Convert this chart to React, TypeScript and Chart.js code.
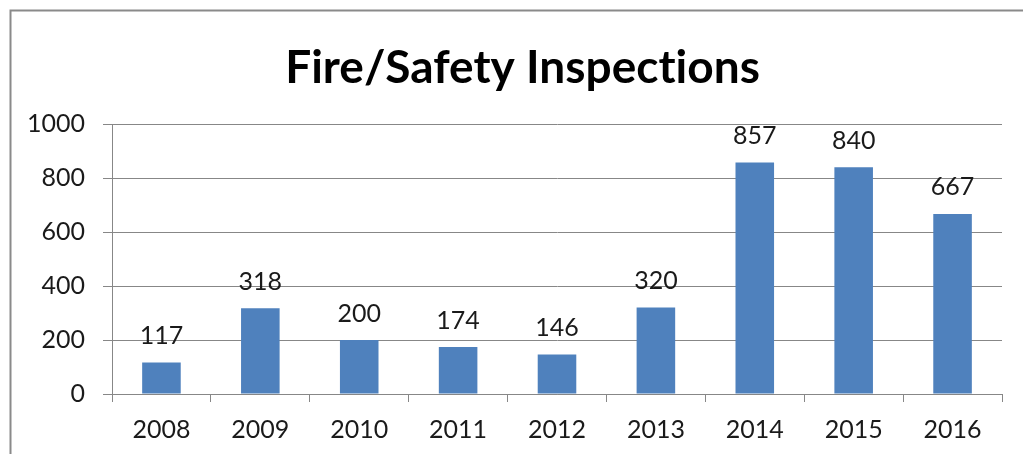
import React, { useEffect, useRef } from "react";
import { Chart, registerables } from "chart.js";

Chart.register(...registerables);

const TITLE = "Fire/Safety Inspections";
const YEARS = ["2008", "2009", "2010", "2011", "2012", "2013", "2014", "2015", "2016"];
const INSPECTIONS = [117, 318, 200, 174, 146, 320, 857, 840, 667];
const Y_MIN = 0;
const Y_MAX = 1000;
const Y_STEP = 200;

const FONT = "Lato, 'Open Sans', sans-serif";
const BAR_COLOR = "#4F81BD";
const GRID_COLOR = "#878787";
const TEXT_COLOR = "#1a1a1a";
const LABEL_SIZE = 25;

const decorPlugin = {
  id: "decor",
  beforeDraw(chart: any) {
    const ctx = chart.ctx;
    ctx.save();
    ctx.strokeStyle = "#8a8a8a";
    ctx.lineWidth = 2;
    ctx.strokeRect(10.5, 10.5, 2000, 2000);
    ctx.restore();
  },
  afterDraw(chart: any) {
    const ctx = chart.ctx;
    ctx.save();
    ctx.fillStyle = "#000";
    ctx.font = `bold 46px ${FONT}`;
    ctx.textAlign = "center";
    ctx.textBaseline = "alphabetic";
    try {
      (ctx as any).letterSpacing = "0.01px";
    } catch (e) {}
    ctx.fillText(TITLE, 522.5, 82.7);
    try {
      (ctx as any).letterSpacing = "0px";
    } catch (e) {}

    const meta = chart.getDatasetMeta(0);
    ctx.font = `${LABEL_SIZE}px ${FONT}`;
    ctx.fillStyle = TEXT_COLOR;
    meta.data.forEach((bar: any, i: number) => {
      ctx.fillText(String(INSPECTIONS[i]), bar.x, bar.y - 18.5);
    });
    ctx.restore();
  },
};

export default function App() {
  const ref = useRef<HTMLCanvasElement | null>(null);
  useEffect(() => {
    if (!ref.current) return;
    const chart = new Chart(ref.current, {
      type: "bar",
      data: {
        labels: YEARS,
        datasets: [
          {
            data: INSPECTIONS,
            backgroundColor: BAR_COLOR,
            borderWidth: 0,
            categoryPercentage: 1,
            barPercentage: 0.39,
          },
        ],
      },
      options: {
        animation: false,
        responsive: false,
        devicePixelRatio: 1,
        layout: { padding: { top: 124, right: 21, bottom: 0, left: 0 } },
        plugins: {
          legend: { display: false },
          title: { display: false },
          tooltip: { enabled: false },
        },
        scales: {
          x: {
            offset: true,
            grid: {
              offset: true,
              drawOnChartArea: false,
              drawTicks: true,
              tickLength: 8,
              color: GRID_COLOR,
            },
            border: { color: GRID_COLOR },
            ticks: {
              color: TEXT_COLOR,
              font: { family: FONT, size: LABEL_SIZE },
              padding: 13,
              maxRotation: 0,
            },
            afterFit(scale: any) {
              scale.height = 60;
            },
          },
          y: {
            min: Y_MIN,
            max: Y_MAX,
            ticks: {
              stepSize: Y_STEP,
              color: TEXT_COLOR,
              font: { family: FONT, size: LABEL_SIZE },
              padding: 18,
              callback: (v: any) => String(v),
            },
            grid: {
              color: GRID_COLOR,
              tickLength: 9,
            },
            border: { color: GRID_COLOR },
            afterFit(scale: any) {
              scale.width = 112;
            },
          },
        },
      },
      plugins: [decorPlugin],
    });
    return () => chart.destroy();
  }, []);
  return (
    <div style={{ position: "fixed", left: 0, top: 0, width: 1023, height: 454, background: "#fff" }}>
      <canvas ref={ref} width={1023} height={454} />
    </div>
  );
}
